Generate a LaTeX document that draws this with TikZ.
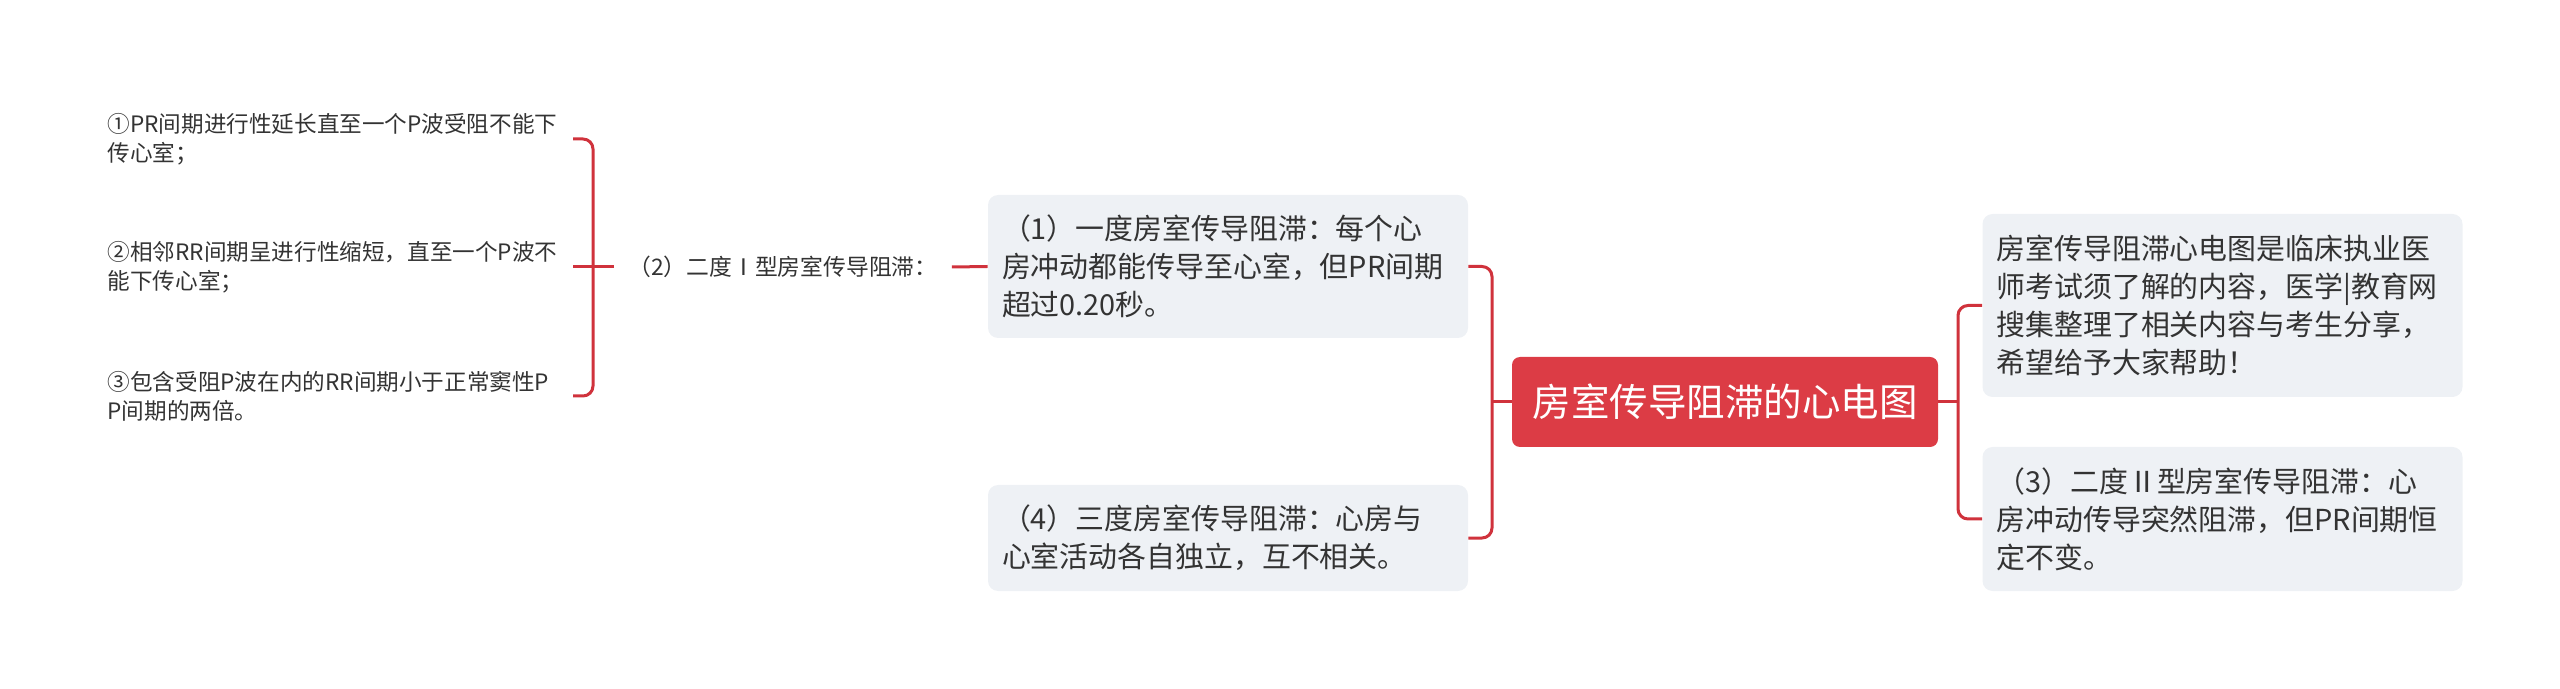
\documentclass[tikz,border=0pt]{standalone}
\usepackage{fontspec}
\setmainfont{Noto Sans CJK SC}
\definecolor{mainred}{RGB}{220,60,69}
\definecolor{linered}{RGB}{208,50,60}
\definecolor{boxfill}{RGB}{238,241,245}
\definecolor{textgray}{RGB}{51,51,51}
\begin{document}
\begin{tikzpicture}[x=0.5pt,y=-0.5pt,
  conn/.style={draw=linered, line width=1.5pt, rounded corners=5pt},
  topic/.style={fill=boxfill, rounded corners=5pt, text=textgray, align=left,
    text width=226pt, inner xsep=7pt, inner ysep=0pt,
    font=\fontsize{14.45pt}{19pt}\selectfont, minimum width=240pt},
  leaf/.style={text=textgray, align=left, text width=227.5pt, inner xsep=5pt,
    inner ysep=2pt, font=\fontsize{11.3pt}{14.5pt}\selectfont, anchor=east},
  lab/.style={text=textgray, inner xsep=7pt, inner ysep=2pt,
    font=\fontsize{11.4pt}{14.5pt}\selectfont, anchor=west},
  central/.style={fill=mainred, rounded corners=4pt, text=white,
    font=\fontsize{19.25pt}{24pt}\selectfont, minimum width=213pt,
    minimum height=45pt, inner sep=0pt}]
\useasboundingbox (0,0) rectangle (2560,689);

% central topic
\node[central] (c) at (1725,402) {房室传导阻滞的心电图};

% left topics
\node[topic, minimum height=71.5pt] (b1) at (1228,266.5)
  {（1）一度房室传导阻滞：每个心\\房冲动都能传导至心室，但PR间期\\超过0.20秒。};
\node[topic, minimum height=53pt] (b4) at (1228,538)
  {（4）三度房室传导阻滞：心房与\\心室活动各自独立，互不相关。};

% right topics
\node[topic, minimum height=91.5pt] (r1) at (2222.5,305.5)
  {房室传导阻滞心电图是临床执业医\\师考试须了解的内容，医学|教育网\\搜集整理了相关内容与考生分享，\\希望给予大家帮助！};
\node[topic, minimum height=72pt] (r3) at (2222.5,519)
  {（3）二度Ⅱ型房室传导阻滞：心\\房冲动传导突然阻滞，但PR间期恒\\定不变。};

% label of second-degree type I
\node[lab] (lab) at (614,267) {（2）二度Ⅰ型房室传导阻滞：};

% leaves
\node[leaf] (l1) at (573,139) {①PR间期进行性延长直至一个P波受阻不能下\\传心室；};
\node[leaf] (l2) at (573,267) {②相邻RR间期呈进行性缩短，直至一个P波不\\能下传心室；};
\node[leaf] (l3) at (573,396) {③包含受阻P波在内的RR间期小于正常窦性P\\P间期的两倍。};

% junction coordinates
\coordinate (lj) at (1492,402);
\coordinate (rj) at (1958,402);
\coordinate (kj) at (593,267);

% connectors
\draw[conn] (c.west) -- (lj);
\draw[conn] (b1.east) -| (lj) |- (b4.east);
\draw[conn] (c.east) -- (rj);
\draw[conn] (r1.west) -| (rj) |- (r3.west);
\draw[conn] (lab.east) -- (b1.west);
\draw[conn] (lab.west) -- (l2.east);
\draw[conn] (l1.east) -| (kj) |- (l3.east);
\end{tikzpicture}
\end{document}
